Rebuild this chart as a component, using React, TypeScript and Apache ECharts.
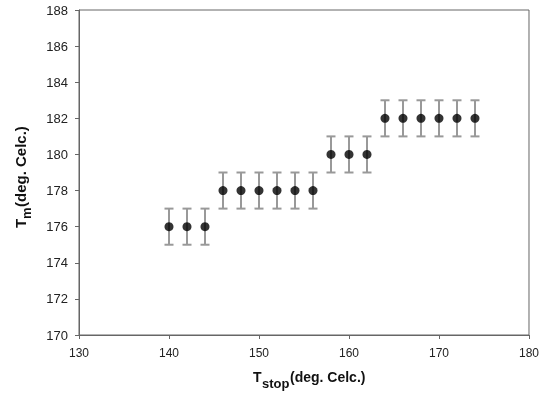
import React, { useEffect, useRef } from "react";
import * as echarts from "echarts";

const xValues = [140, 142, 144, 146, 148, 150, 152, 154, 156, 158, 160, 162, 164, 166, 168, 170, 172, 174];
const yValues = [176, 176, 176, 178, 178, 178, 178, 178, 178, 180, 180, 180, 182, 182, 182, 182, 182, 182];
const yErrors = [1, 1, 1, 1, 1, 1, 1, 1, 1, 1, 1, 1, 1, 1, 1, 1, 1, 1];

const FONT = "Liberation Sans, Arial, sans-serif";

export default function App() {
  const ref = useRef<HTMLDivElement>(null);
  useEffect(() => {
    if (!ref.current) return;
    const chart = echarts.init(ref.current, null, { renderer: "svg" });
    const points = xValues.map((x, i) => [x, yValues[i]]);
    const errData = xValues.map((x, i) => [x, yValues[i] - yErrors[i], yValues[i] + yErrors[i]]);
    const axisColor = "#666";
    chart.setOption({
      animation: false,
      grid: { left: 79, top: 10, right: 13, bottom: 61, show: true, borderColor: axisColor, borderWidth: 1 },
      xAxis: {
        type: "value",
        min: 130,
        max: 180,
        interval: 10,
        axisLine: { show: true, lineStyle: { color: axisColor } },
        axisTick: { show: true, inside: false, length: 4, lineStyle: { color: axisColor } },
        axisLabel: { color: "#222", fontSize: 12, fontFamily: FONT, margin: 12 },
        splitLine: { show: false },
      },
      yAxis: {
        type: "value",
        min: 170,
        max: 188,
        interval: 2,
        axisLine: { show: true, lineStyle: { color: axisColor } },
        axisTick: { show: true, inside: false, length: 4, lineStyle: { color: axisColor } },
        axisLabel: { color: "#222", fontSize: 13, fontFamily: FONT, margin: 11 },
        splitLine: { show: false },
      },
      graphic: [
        {
          type: "group",
          x: 253,
          y: 370,
          children: [
            { type: "text", x: 0, y: 0, style: { text: "T", font: `bold 14px ${FONT}`, fill: "#111" } },
            { type: "text", x: 9, y: 7, style: { text: "stop", font: `bold 13px ${FONT}`, fill: "#111" } },
            { type: "text", x: 37, y: 0, style: { text: "(deg. Celc.)", font: `bold 14px ${FONT}`, fill: "#111" } },
          ],
        },
        {
          type: "group",
          x: 13,
          y: 228,
          rotation: Math.PI / 2,
          children: [
            { type: "text", x: 0, y: 0, style: { text: "T", font: `bold 15px ${FONT}`, fill: "#111" } },
            { type: "text", x: 9, y: 7, style: { text: "m", font: `bold 13px ${FONT}`, fill: "#111" } },
            { type: "text", x: 21, y: 0, style: { text: "(deg. Celc.)", font: `bold 15px ${FONT}`, fill: "#111" } },
          ],
        },
      ],
      series: [
        {
          type: "custom",
          data: errData,
          z: 2,
          renderItem: (params: any, api: any) => {
            const x = api.value(0);
            const lo = api.coord([x, api.value(1)]);
            const hi = api.coord([x, api.value(2)]);
            const hw = 4.5;
            const st = { stroke: "#999", lineWidth: 2 };
            return {
              type: "group",
              children: [
                { type: "line", shape: { x1: lo[0], y1: lo[1], x2: hi[0], y2: hi[1] }, style: st },
                { type: "line", shape: { x1: lo[0] - hw, y1: lo[1], x2: lo[0] + hw, y2: lo[1] }, style: st },
                { type: "line", shape: { x1: hi[0] - hw, y1: hi[1], x2: hi[0] + hw, y2: hi[1] }, style: st },
              ],
            };
          },
        },
        {
          type: "scatter",
          data: points,
          symbol: "circle",
          symbolSize: 9,
          z: 3,
          itemStyle: { color: "#000" },
        },
      ],
    });
    return () => chart.dispose();
  }, []);
  return <div ref={ref} style={{ position: "fixed", left: 0, top: 0, width: 542, height: 396 }} />;
}
